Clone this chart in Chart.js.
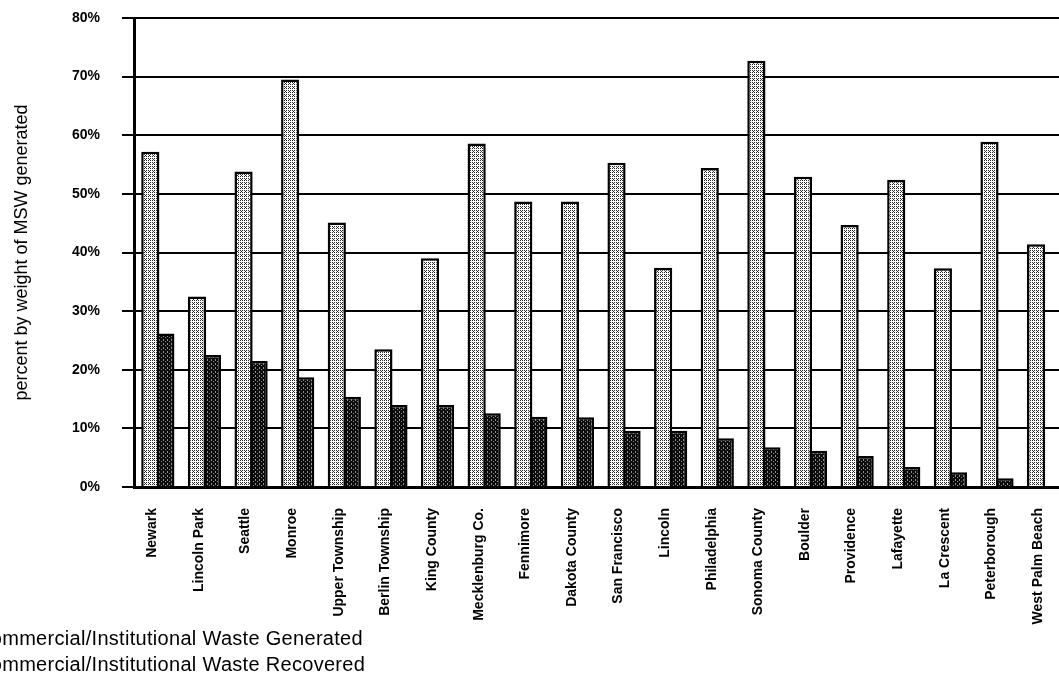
<!DOCTYPE html>
<html>
<head>
<meta charset="utf-8">
<script src="https://cdn.jsdelivr.net/npm/chart.js@4"></script>
<style>
  html, body { margin: 0; padding: 0; background: #fff; overflow: hidden; }
  #wrap { position: relative; width: 1059px; height: 694px; overflow: hidden; }
  #myChart { position: absolute; left: -60px; top: 0; }
</style>
</head>
<body>
<div id="wrap"><canvas id="myChart" width="1141" height="694"></canvas></div>
<script>
var cities = ["Newark", "Lincoln Park", "Seattle", "Monroe", "Upper Township", "Berlin Township",
  "King County", "Mecklenburg Co.", "Fennimore", "Dakota County", "San Francisco", "Lincoln",
  "Philadelphia", "Sonoma County", "Boulder", "Providence", "Lafayette", "La Crescent",
  "Peterborough", "West Palm Beach"]
var generated = [57.2, 32.5, 53.8, 69.5, 45.1, 23.5, 39.0, 58.6, 48.7, 48.7,
  55.3, 37.4, 54.4, 72.7, 52.9, 44.7, 52.4, 37.3, 58.9, 41.4]
var recovered = [26.2, 22.5, 21.5, 18.7, 15.4, 14.0, 14.0, 12.6, 12.0, 11.9,
  9.6, 9.6, 8.3, 6.8, 6.2, 5.3, 3.4, 2.5, 1.5, 0]
var yTicks = [0, 10, 20, 30, 40, 50, 60, 70, 80]

// stipple fills like the old print
function stipple(bg, dot, pts) {
  var c = document.createElement('canvas')
  c.width = 4; c.height = 4
  var g = c.getContext('2d')
  g.fillStyle = bg
  g.fillRect(0, 0, 4, 4)
  g.fillStyle = dot
  pts.forEach(p => g.fillRect(p[0], p[1], 1, 1))
  return g.createPattern(c, 'repeat')
}
var lightFill = stipple('#ffffff', '#2a2a2a', [[0, 0], [2, 2], [2, 0], [0, 2], [1, 3]])
var darkFill = stipple('#0c0c0c', '#8a8a8a', [[1, 1], [3, 3], [3, 0]])

const fontFam = '"Liberation Sans", Arial, Helvetica, sans-serif'

const stackedLegend = {
  id: 'stackedLegend',
  afterDraw(chart) {
    const ctx = chart.ctx
    ctx.save()
    ctx.font = '20px ' + fontFam
    try { ctx.letterSpacing = '0.3px' } catch (e) {}
    ctx.textBaseline = 'alphabetic'
    chart.data.datasets.forEach((ds, i) => {
      let y = 645 + i * 26
      ctx.fillStyle = ds.backgroundColor
      ctx.fillRect(6, y - 14, 18, 14)
      ctx.strokeStyle = '#000'
      ctx.lineWidth = 1.5
      ctx.strokeRect(6, y - 14, 18, 14)
      ctx.fillStyle = '#000'
      ctx.fillText(ds.label, 36, y)
    })
    ctx.restore()
  }
}

const ctx = document.getElementById('myChart')
const chart1 = new Chart(ctx, {
  type: 'bar',
  data: {
    labels: cities,
    datasets: [{
      label: 'Commercial/Institutional Waste Generated',
      data: generated,
      backgroundColor: lightFill,
      borderColor: '#000',
      borderWidth: 2.5,
      barPercentage: 1.3,
      categoryPercentage: 0.6
    }, {
      label: 'Commercial/Institutional Waste Recovered',
      data: recovered,
      backgroundColor: darkFill,
      borderColor: '#000',
      borderWidth: 2.5,
      barPercentage: 1.45,
      categoryPercentage: 0.6
    }]
  },
  options: {
    responsive: false,
    animation: false,
    devicePixelRatio: 1,
    layout: { padding: { top: 18, right: 4, bottom: 0, left: 0 } },
    plugins: {
      legend: { display: false },
      tooltip: { enabled: false }
    },
    scales: {
      x: {
        grid: { display: false, drawTicks: false },
        border: { display: true, color: '#000', width: 3 },
        ticks: {
          color: '#000',
          font: { family: fontFam, size: 14, weight: 'bold' },
          minRotation: 90,
          maxRotation: 90,
          autoSkip: false,
          padding: 21,
          labelOffset: -5
        },
        afterFit(scale) { scale.height = 207 }
      },
      y: {
        min: 0,
        max: 80,
        afterBuildTicks(scale) { scale.ticks = yTicks.map(v => ({ value: v })) },
        grid: { color: '#000', lineWidth: 2, tickLength: 12, tickColor: '#000', tickWidth: 2 },
        border: { display: true, color: '#000', width: 3 },
        ticks: {
          color: '#000',
          padding: 22,
          font: { family: fontFam, size: 14, weight: 'bold' },
          callback: v => v + '%'
        },
        title: {
          display: true,
          text: 'percent by weight of MSW generated',
          color: '#000',
          font: { family: fontFam, size: 18 },
          padding: { top: 71, bottom: 0 }
        },
        afterFit(scale) {
          scale.width = 194
          scale.paddingTop = 8
          scale.paddingBottom = 8
        }
      }
    }
  },
  plugins: [stackedLegend]
})
</script>
</body>
</html>
